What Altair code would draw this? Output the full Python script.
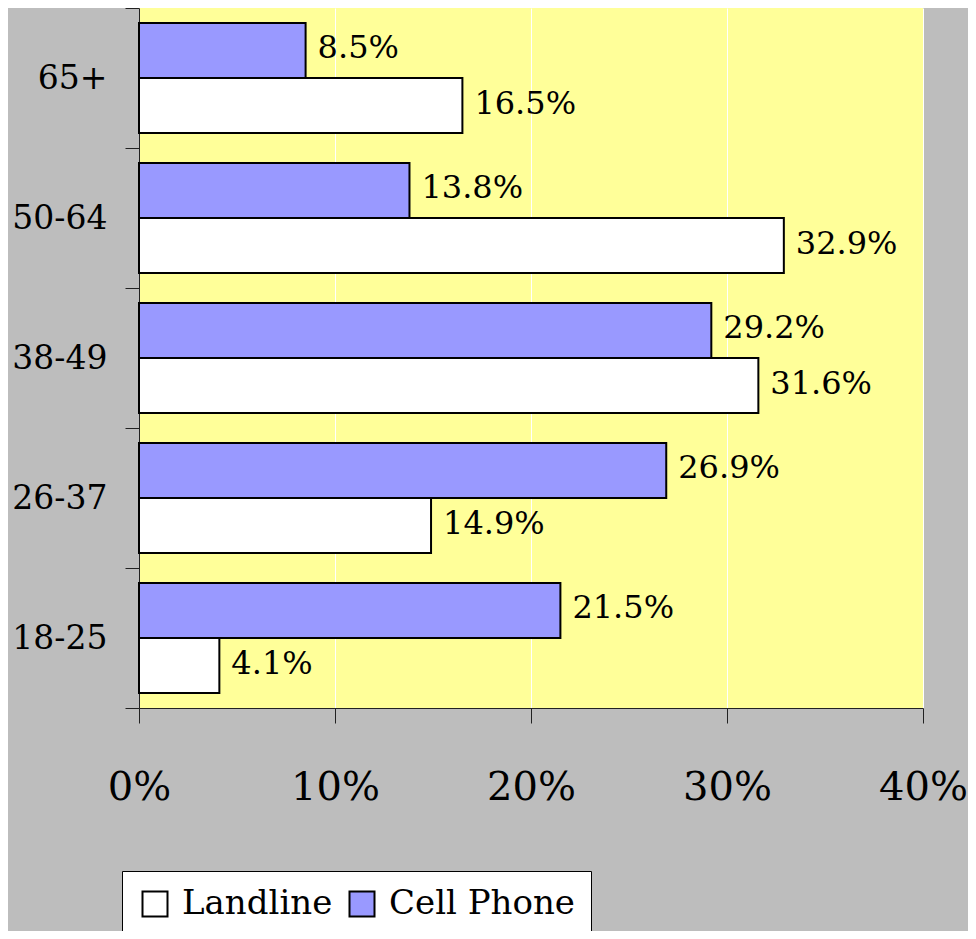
import altair as alt
import pandas as pd

ages = ["65+", "50-64", "38-49", "26-37", "18-25"]
landline = [16.5, 32.9, 31.6, 14.9, 4.1]
cell_phone = [8.5, 13.8, 29.2, 26.9, 21.5]
series_names = ["Landline", "Cell Phone"]
x_ticks = [0, 10, 20, 30, 40]

rows = []
for a, l, c in zip(ages, landline, cell_phone):
    rows.append({"age": a, "series": "Landline", "value": l, "label": f"{l:.1f}%"})
    rows.append({"age": a, "series": "Cell Phone", "value": c, "label": f"{c:.1f}%"})
df = pd.DataFrame(rows)

FONT = "DejaVu Serif"

y_enc = alt.Y("age:N", sort=ages,
              scale=alt.Scale(paddingInner=0, paddingOuter=0),
              axis=alt.Axis(title=None, tickBand="extent", tickSize=14, tickColor="#222",
                            domainColor="#222", labelFont=FONT, labelFontSize=33,
                            labelColor="black", labelPadding=18, labelBaseline="middle"))
yoff_enc = alt.YOffset("series:N", sort=["Cell Phone", "Landline"],
                       scale=alt.Scale(paddingInner=0, paddingOuter=0.27))
x_enc = alt.X("value:Q", scale=alt.Scale(domain=[0, 40], nice=False),
              axis=alt.Axis(title=None, values=x_ticks, labelExpr="datum.value + '%'",
                            grid=True, gridColor="white", gridWidth=1,
                            tickSize=15, tickColor="#222", domainColor="#222",
                            labelFont=FONT, labelFontSize=40, labelColor="black",
                            labelPadding=44, labelFlush=False, labelOverlap=False))

bars = alt.Chart(df).mark_bar(stroke="black", strokeWidth=2).encode(
    x=x_enc,
    y=y_enc,
    yOffset=yoff_enc,
    color=alt.Color("series:N", scale=alt.Scale(domain=series_names, range=["white", "#9999ff"]),
                    legend=alt.Legend(title=None, orient="none", legendX=-17, legendY=863,
                                      direction="horizontal", fillColor="white",
                                      strokeColor="black", padding=16,
                                      symbolType="square", symbolSize=625,
                                      symbolStrokeColor="black", symbolStrokeWidth=2,
                                      labelFont=FONT, labelFontSize=34, labelColor="black",
                                      labelOffset=10, columnPadding=12, labelLimit=500)),
)

labels = alt.Chart(df).mark_text(align="left", baseline="middle", dx=12, dy=-2,
                                 font=FONT, fontSize=32, color="black").encode(
    x="value:Q",
    y=alt.Y("age:N", sort=ages),
    yOffset=alt.YOffset("series:N", sort=["Cell Phone", "Landline"]),
    text="label:N",
)

chart = alt.layer(bars, labels).properties(
    width=784, height=700,
    autosize=alt.AutoSizeParams(type="none"),
    padding={"left": 131, "top": 0, "right": 45, "bottom": 223},
    background="#bdbdbd",
).configure_view(fill="#ffff99", stroke=None)

chart.save("out.html", embed_options={"renderer": "svg", "actions": False})
